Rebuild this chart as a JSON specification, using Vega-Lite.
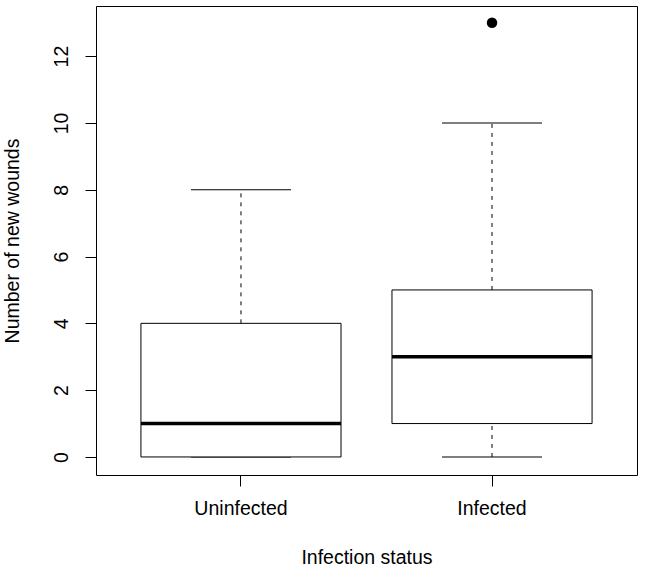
{
  "$schema": "https://vega.github.io/schema/vega-lite/v6.json",
  "autosize": {"type": "none"},
  "width": 541,
  "height": 469,
  "padding": {"left": 96, "top": 6, "right": 8, "bottom": 97},
  "background": "white",
  "config": {
    "view": {"stroke": "black", "strokeWidth": 1},
    "font": "Liberation Sans",
    "axis": {
      "grid": false,
      "domain": false,
      "ticks": true,
      "tickColor": "black",
      "tickSize": 11,
      "labelFont": "Liberation Sans",
      "titleFont": "Liberation Sans",
      "labelFontSize": 19.5,
      "titleFontSize": 19.5,
      "titleFontWeight": "normal",
      "labelColor": "black",
      "titleColor": "black"
    }
  },
  "datasets": {
    "stats": [
      {"status": "Uninfected", "min": 0, "q1": 0, "median": 1, "q3": 4, "max": 8},
      {"status": "Infected", "min": 0, "q1": 1, "median": 3, "q3": 5, "max": 10}
    ],
    "outliers": [
      {"status": "Infected", "wounds": 13}
    ]
  },
  "encoding": {
    "x": {
      "field": "status",
      "type": "nominal",
      "sort": ["Uninfected", "Infected"],
      "scale": {"domain": ["Uninfected", "Infected"], "paddingInner": 0.203, "paddingOuter": 0.179},
      "axis": {"title": "Infection status", "labelAngle": 0, "labelPadding": 13, "labelBaseline": "top", "titlePadding": 31}
    }
  },
  "layer": [
    {
      "data": {"name": "stats"},
      "mark": {"type": "rule", "strokeDash": [4, 5], "color": "black", "strokeWidth": 1},
      "encoding": {
        "y": {"field": "q3", "type": "quantitative"},
        "y2": {"field": "max"}
      }
    },
    {
      "data": {"name": "stats"},
      "mark": {"type": "rule", "strokeDash": [4, 5], "color": "black", "strokeWidth": 1},
      "encoding": {
        "y": {"field": "min", "type": "quantitative"},
        "y2": {"field": "q1"}
      }
    },
    {
      "data": {"name": "stats"},
      "mark": {"type": "tick", "color": "black", "opacity": 1, "thickness": 1, "size": 100, "orient": "horizontal"},
      "encoding": {"y": {"field": "max", "type": "quantitative"}}
    },
    {
      "data": {"name": "stats"},
      "mark": {"type": "tick", "color": "black", "opacity": 1, "thickness": 1, "size": 100, "orient": "horizontal"},
      "encoding": {"y": {"field": "min", "type": "quantitative"}}
    },
    {
      "data": {"name": "stats"},
      "mark": {"type": "bar", "fill": "white", "stroke": "black", "strokeWidth": 1},
      "encoding": {
        "y": {
          "field": "q1",
          "type": "quantitative",
          "scale": {"domain": [-0.54, 13.5], "nice": false, "zero": false},
          "axis": {
            "title": "Number of new wounds",
            "values": [0, 2, 4, 6, 8, 10, 12],
            "labelAngle": -90,
            "labelAlign": "center",
            "labelBaseline": "bottom",
            "labelPadding": 14,
            "titlePadding": 29
          }
        },
        "y2": {"field": "q3"}
      }
    },
    {
      "data": {"name": "stats"},
      "mark": {"type": "tick", "color": "black", "opacity": 1, "thickness": 3.5, "size": 200, "orient": "horizontal"},
      "encoding": {"y": {"field": "median", "type": "quantitative"}}
    },
    {
      "data": {"name": "outliers"},
      "mark": {"type": "point", "filled": true, "color": "black", "opacity": 1, "size": 110, "shape": "circle"},
      "encoding": {"y": {"field": "wounds", "type": "quantitative"}}
    }
  ]
}
